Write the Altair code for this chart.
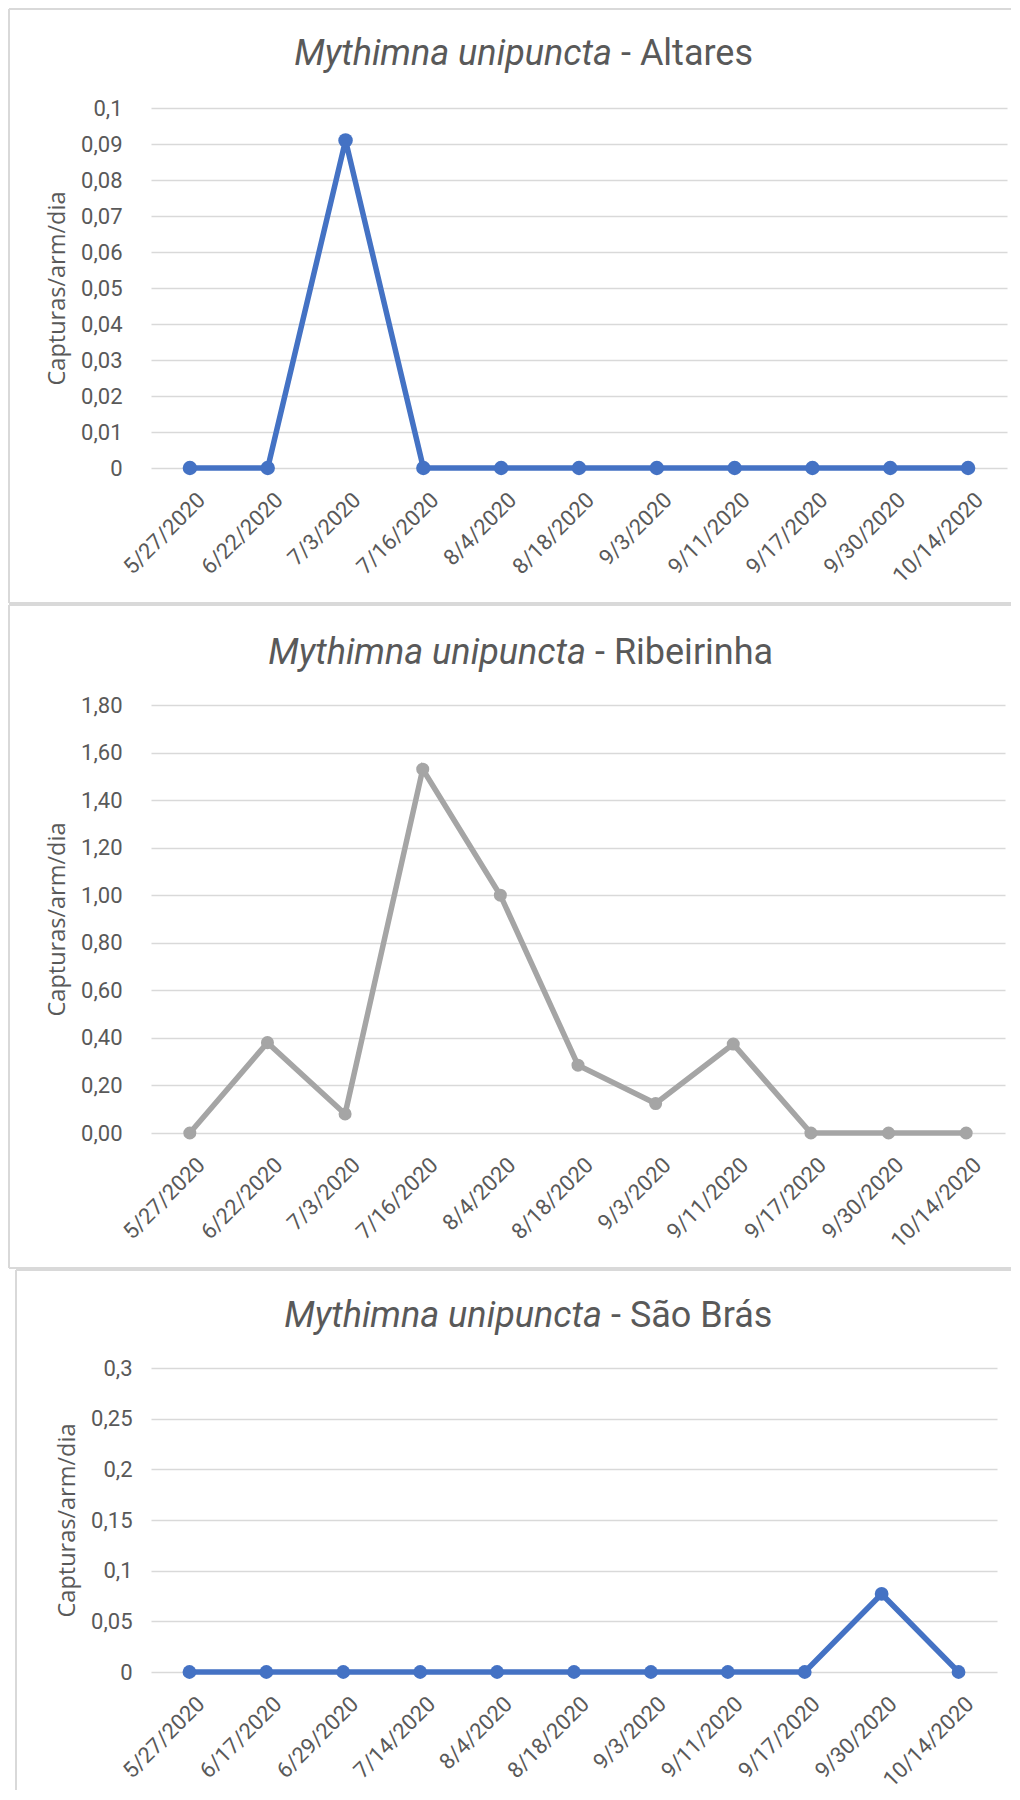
import altair as alt
import pandas as pd

# ---- data ----
dates_altares = ["5/27/2020", "6/22/2020", "7/3/2020", "7/16/2020", "8/4/2020", "8/18/2020",
                 "9/3/2020", "9/11/2020", "9/17/2020", "9/30/2020", "10/14/2020"]
vals_altares = [0, 0, 0.091, 0, 0, 0, 0, 0, 0, 0, 0]

dates_ribeirinha = ["5/27/2020", "6/22/2020", "7/3/2020", "7/16/2020", "8/4/2020", "8/18/2020",
                    "9/3/2020", "9/11/2020", "9/17/2020", "9/30/2020", "10/14/2020"]
vals_ribeirinha = [0, 0.38, 0.08, 1.53, 1.00, 0.285, 0.124, 0.374, 0, 0, 0]

dates_saobras = ["5/27/2020", "6/17/2020", "6/29/2020", "7/14/2020", "8/4/2020", "8/18/2020",
                 "9/3/2020", "9/11/2020", "9/17/2020", "9/30/2020", "10/14/2020"]
vals_saobras = [0, 0, 0, 0, 0, 0, 0, 0, 0, 0.077, 0]

ticks_altares = [0, 0.01, 0.02, 0.03, 0.04, 0.05, 0.06, 0.07, 0.08, 0.09, 0.1]
ticks_ribeirinha = [0, 0.2, 0.4, 0.6, 0.8, 1.0, 1.2, 1.4, 1.6, 1.8]
ticks_saobras = [0, 0.05, 0.1, 0.15, 0.2, 0.25, 0.3]

species = "Mythimna unipuncta"
sites = ["- Altares", "- Ribeirinha", "- São Brás"]
y_title = "Capturas/arm/dia"

BLUE = "#4472C4"
GRAY = "#A5A5A5"
TXT = "#595959"
GRID = "#D9D9D9"
LABEL_FONT = "Roboto"
TITLE_FONT = "Roboto"


def panel(dates, vals, ticks, fmt, domain_max, color, width, height, site,
          split_x, title_y, frame_left, frame_top, frame_bottom, frame_right,
          label_pad, ytitle_x, psize, lw):
    df = pd.DataFrame({"date": dates, "v": vals})
    one = pd.DataFrame({"k": [0]})
    x_enc = alt.X("date:N", sort=None, title=None,
                  scale=alt.Scale(type="point", padding=0.5),
                  axis=alt.Axis(labelAngle=315, labelAlign="right", labelBaseline="top",
                                labelPadding=21, labelOffset=4, labelFont=LABEL_FONT,
                                labelFontSize=22, labelColor=TXT, ticks=False,
                                domain=False, grid=False, labelOverlap=False))
    y_enc = alt.Y("v:Q", title=y_title,
                  scale=alt.Scale(domain=[0, domain_max], nice=False, zero=True),
                  axis=alt.Axis(values=ticks,
                                labelExpr=f"replace(format(datum.value, '{fmt}'), '.', ',')",
                                labelFont=LABEL_FONT, labelFontSize=22, labelColor=TXT,
                                labelPadding=label_pad, ticks=False, domain=False,
                                grid=True, gridColor=GRID, gridWidth=1.6,
                                titleFont="Open Sans", titleFontSize=23.5,
                                titleFontWeight="normal", titleColor=TXT,
                                titleAngle=270, titleAlign="center",
                                titleBaseline="middle", titleX=ytitle_x,
                                titleY=height / 2))
    base = alt.Chart(df).encode(x=x_enc, y=y_enc)
    line = base.mark_line(color=color, strokeWidth=lw)
    pts = base.mark_point(color=color, filled=True, opacity=1, size=psize)

    fr = alt.Chart(one)
    top_rule = fr.mark_rule(color=GRID, strokeWidth=2).encode(
        x=alt.value(frame_left), x2=alt.value(frame_right), y=alt.value(frame_top))
    left_rule = fr.mark_rule(color=GRID, strokeWidth=2).encode(
        x=alt.value(frame_left), y=alt.value(frame_top), y2=alt.value(frame_bottom))
    layers = [top_rule, left_rule]
    if site != sites[2]:
        bottom_rule = fr.mark_rule(color=GRID, strokeWidth=2).encode(
            x=alt.value(frame_left), x2=alt.value(frame_right), y=alt.value(frame_bottom))
        layers.append(bottom_rule)

    t1 = fr.mark_text(font=TITLE_FONT, fontSize=36, fontStyle="italic", color=TXT,
                      align="right", baseline="middle").encode(
        x=alt.value(split_x), y=alt.value(title_y), text=alt.value(species))
    t2 = fr.mark_text(font=TITLE_FONT, fontSize=36, color=TXT,
                      align="left", baseline="middle", dx=9).encode(
        x=alt.value(split_x), y=alt.value(title_y), text=alt.value(site))
    layers += [line, pts, t1, t2]
    return alt.layer(*layers).properties(width=width, height=height)


p1 = panel(dates_altares, vals_altares, ticks_altares, ".2~f", 0.1, BLUE, 856, 360,
           sites[0], 461, -54, -142, -99, 495, 860, 29, -94, 210, 5.5)
p2 = panel(dates_ribeirinha, vals_ribeirinha, ticks_ribeirinha, ".2f", 1.8, GRAY, 854, 428,
           sites[1], 435, -52, -142, -100, 563, 860, 29, -94, 170, 5.5)
p3 = panel(dates_saobras, vals_saobras, ticks_saobras, ".2~f", 0.3, BLUE, 846, 304,
           sites[2], 451, -52, -135, -98, 422, 860, 19, -84, 190, 5.5)

chart = alt.vconcat(p1, p2, p3, spacing=0).properties(
    padding=0, background="white"
).configure_view(strokeWidth=0)

chart.save("out.html", embed_options={"renderer": "svg", "actions": False})
